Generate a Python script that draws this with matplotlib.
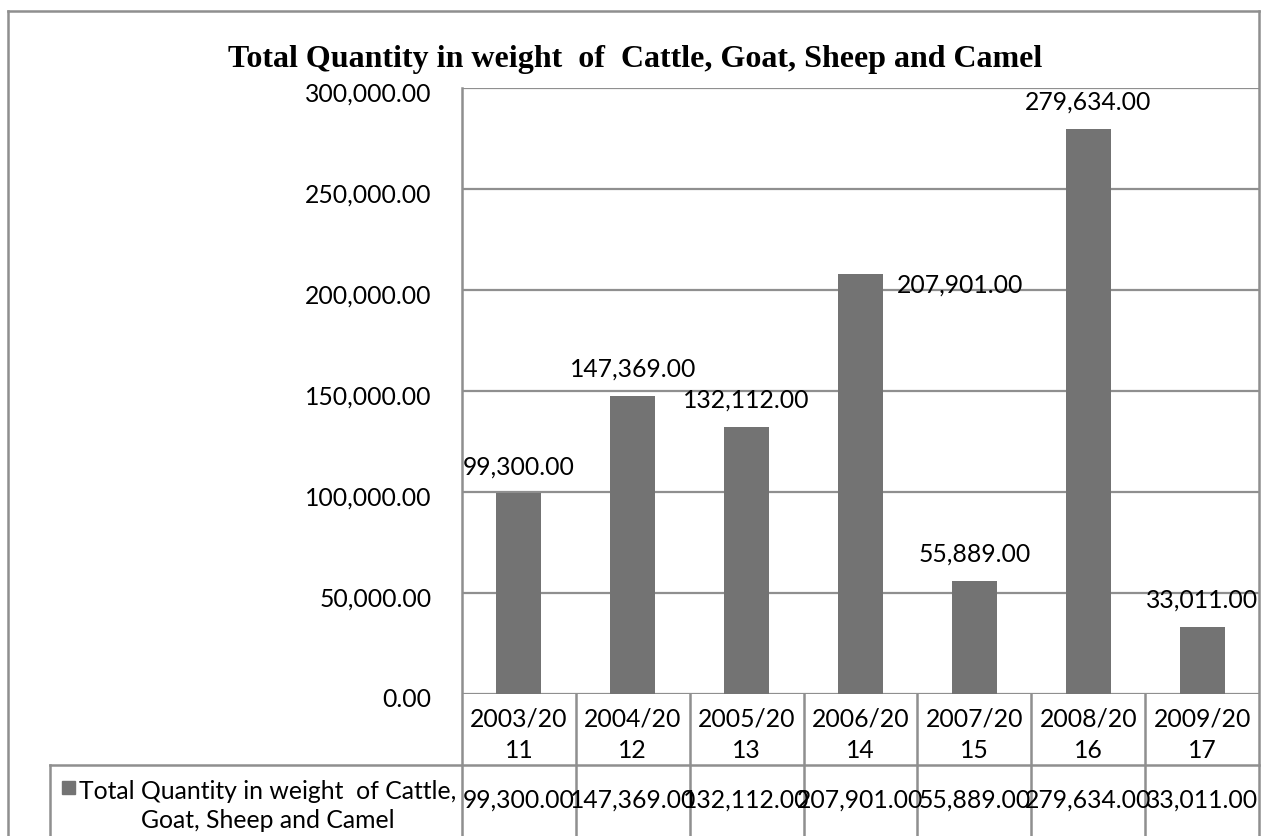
import matplotlib.pyplot as plt
from matplotlib.transforms import ScaledTranslation
import numpy as np

# Data
years = ["2003/20\n11", "2004/20\n12", "2005/20\n13", "2006/20\n14",
         "2007/20\n15", "2008/20\n16", "2009/20\n17"]
values = [99300, 147369, 132112, 207901, 55889, 279634, 33011]
series_name = "Total Quantity in weight  of Cattle,\nGoat, Sheep and Camel"
title = "Total Quantity in weight  of  Cattle, Goat, Sheep and Camel"
yticks = [0, 50000, 100000, 150000, 200000, 250000, 300000]

W, H = 1265, 837
bar_col = '#737373'
line_col = '#8f8f8f'
font = 'Lato'
fs = 17.8

fig = plt.figure(figsize=(W/100, H/100), dpi=100)

# pixel helpers (y measured from top)
def fx(px): return px / W
def fy(py): return 1 - py / H

left, top, right, zero = 462, 89, 1259, 695
ax = fig.add_axes([fx(left), fy(zero), fx(right) - fx(left), fy(top) - fy(zero)])

x = np.arange(len(values))
ax.bar(x, values, width=0.395, color=bar_col, zorder=3)
ax.set_xlim(-0.5, len(values) - 0.5)
ax.set_ylim(0, 300000)
ax.set_yticks(yticks)
ax.set_yticklabels([f"{v:,.2f}" for v in yticks], fontsize=fs, family=font)
ax.tick_params(axis='y', length=0, pad=22)
ax.set_xticks([])
ax.grid(axis='y', color=line_col, linewidth=1.6, zorder=0)
for s in ax.spines.values():
    s.set_visible(False)
for lab in ax.get_yticklabels():
    lab.set_transform(lab.get_transform() + ScaledTranslation(0, -0.03, fig.dpi_scale_trans))

# data labels
for i, v in enumerate(values):
    if i == 3:
        ax.annotate(f"{v:,.2f}", (i, v), xytext=(72, -7.5), textcoords='offset points',
                    ha='center', va='center', fontsize=fs, family=font)
    else:
        ax.annotate(f"{v:,.2f}", (i, v), xytext=(0, 20), textcoords='offset points',
                    ha='center', va='center', fontsize=fs, family=font)

# title
fig.text(fx(635), fy(67), title, ha='center', va='baseline', fontsize=23,
         fontweight='bold', family='Liberation Serif')

# outer border and table lines (figure pixel coords)
def seg(x0, y0, x1, y1):
    fig.add_artist(plt.Line2D([fx(x0), fx(x1)], [fy(y0), fy(y1)], color=line_col,
                              linewidth=1.8, transform=fig.transFigure))

seg(8, 12, 1259, 12)
seg(8, 12, 8, H)
seg(1259, 12, 1259, H)
seg(left, top, left, H)
row1 = 766
seg(50, row1, right, row1)
seg(50, row1, 50, H)
cw = (right - left) / len(values)
for i in range(1, len(values)):
    seg(left + i * cw, zero, left + i * cw, H)

# table text
for i, (yr, v) in enumerate(zip(years, values)):
    cx = left + (i + 0.5) * cw
    fig.text(fx(cx), fy(735), yr, ha='center', va='center', fontsize=fs,
             family=font, linespacing=1.45)
    fig.text(fx(cx), fy(800), f"{v:,.2f}", ha='center', va='center', fontsize=fs,
             family=font)

# legend cell
fig.patches.append(plt.Rectangle((fx(62), fy(795)), fx(13), 13 / H, color=bar_col,
                                 transform=fig.transFigure))
fig.text(fx(268), fy(806), series_name, ha='center', va='center', fontsize=fs,
         family=font, linespacing=1.32)

plt.savefig('out.png', dpi=100)
